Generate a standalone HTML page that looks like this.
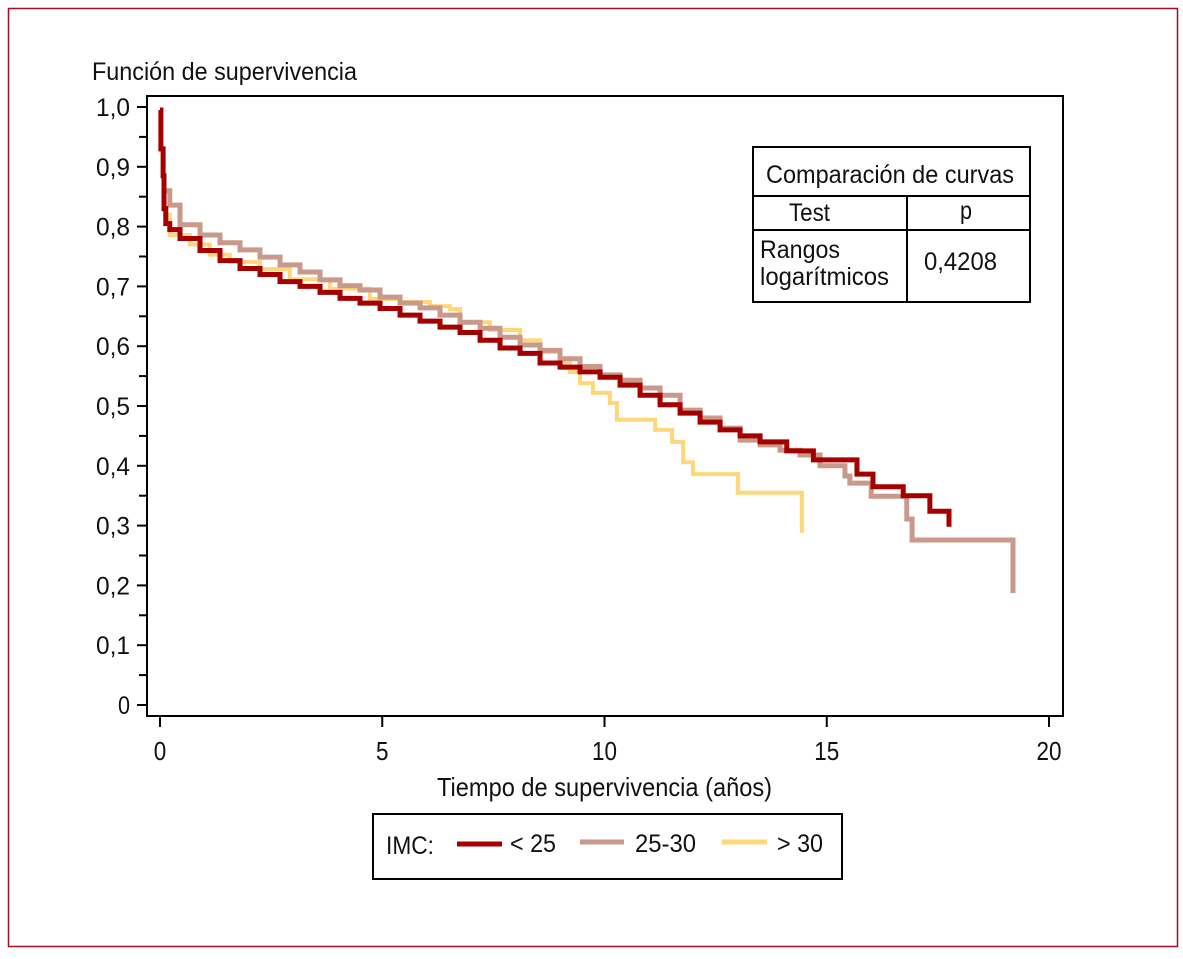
<!DOCTYPE html>
<html><head><meta charset="utf-8"><style>
body{margin:0;background:#fff}
svg text{font-family:"Liberation Sans Narrow","Liberation Sans",sans-serif;fill:#111}
</style></head><body>
<svg id="chart" width="1183" height="954" xmlns="http://www.w3.org/2000/svg">
<rect x="8.5" y="8.5" width="1169" height="938" fill="none" stroke="#a01020" stroke-width="1.5"/>
<text x="92" y="80" font-size="25" textLength="265" lengthAdjust="spacingAndGlyphs">Función de supervivencia</text>
<rect x="147" y="96" width="916" height="620" fill="none" stroke="#000" stroke-width="2"/>
<g id="axes"></g>
<g id="series"></g>
<text x="437" y="796" font-size="26" textLength="335" lengthAdjust="spacingAndGlyphs">Tiempo de supervivencia (años)</text>
<g>
<rect x="753" y="147" width="277" height="155" fill="#fff" stroke="#000" stroke-width="2"/>
<line x1="753" y1="196" x2="1030" y2="196" stroke="#000" stroke-width="2"/>
<line x1="753" y1="230" x2="1030" y2="230" stroke="#000" stroke-width="2"/>
<line x1="907" y1="196" x2="907" y2="302" stroke="#000" stroke-width="2"/>
<text x="766" y="183" font-size="25" textLength="248" lengthAdjust="spacingAndGlyphs">Comparación de curvas</text>
<text x="789" y="221" font-size="25" textLength="41" lengthAdjust="spacingAndGlyphs">Test</text>
<text x="960" y="219" font-size="25" textLength="12" lengthAdjust="spacingAndGlyphs">p</text>
<text x="760" y="258" font-size="25" textLength="80" lengthAdjust="spacingAndGlyphs">Rangos</text>
<text x="760" y="285" font-size="25" textLength="129" lengthAdjust="spacingAndGlyphs">logarítmicos</text>
<text x="924" y="270" font-size="25" textLength="73" lengthAdjust="spacingAndGlyphs">0,4208</text>
</g>
<g>
<rect x="373" y="814" width="469" height="65" fill="none" stroke="#000" stroke-width="2"/>
<text x="386" y="854" font-size="25" textLength="48" lengthAdjust="spacingAndGlyphs">IMC:</text>
<line x1="457" y1="844" x2="502" y2="844" stroke="#a50000" stroke-width="5"/>
<text x="510" y="852" font-size="25" textLength="46" lengthAdjust="spacingAndGlyphs">&lt; 25</text>
<line x1="580" y1="842" x2="624" y2="842" stroke="#c9998c" stroke-width="5"/>
<text x="635" y="852" font-size="25" textLength="61" lengthAdjust="spacingAndGlyphs">25-30</text>
<line x1="722" y1="842" x2="767" y2="842" stroke="#fdd77a" stroke-width="5"/>
<text x="777" y="852" font-size="25" textLength="46" lengthAdjust="spacingAndGlyphs">&gt; 30</text>
</g>
</svg>
<script>
const xTicks=[0,5,10,15,20];
const yTicks=[0,0.1,0.2,0.3,0.4,0.5,0.6,0.7,0.8,0.9,1.0];
const yTickLabels=["0","0,1","0,2","0,3","0,4","0,5","0,6","0,7","0,8","0,9","1,0"];
const redT=[0,0.02,0.07,0.09,0.13,0.22,0.45,0.9,1.35,1.8,2.25,2.7,3.15,3.6,4.05,4.5,4.95,5.4,5.85,6.3,6.75,7.2,7.65,8.1,8.55,9.0,9.45,9.9,10.35,10.8,11.25,11.7,12.15,12.6,13.05,13.5,14.1,14.7,15.68,16.04,16.72,17.32];
const redS=[0.995,0.93,0.885,0.83,0.805,0.795,0.78,0.76,0.743,0.73,0.72,0.708,0.70,0.69,0.68,0.672,0.663,0.652,0.642,0.632,0.623,0.61,0.597,0.588,0.572,0.565,0.557,0.548,0.535,0.518,0.502,0.488,0.473,0.46,0.45,0.44,0.425,0.41,0.386,0.365,0.35,0.324];
const redEnd=[17.75,0.298];
const roseT=[0.07,0.22,0.45,0.9,1.35,1.8,2.25,2.7,3.15,3.6,4.05,4.5,4.95,5.4,5.85,6.3,6.75,7.2,7.65,8.1,8.55,9.0,9.45,9.9,10.35,10.8,11.25,11.7,12.15,12.6,13.05,13.5,13.95,14.4,14.85,15.41,15.52,16.0,16.8,16.92];
const roseS=[0.86,0.836,0.803,0.786,0.773,0.761,0.749,0.736,0.724,0.711,0.701,0.694,0.682,0.672,0.664,0.652,0.64,0.63,0.615,0.602,0.593,0.579,0.566,0.552,0.543,0.53,0.518,0.493,0.48,0.463,0.443,0.435,0.426,0.418,0.40,0.383,0.371,0.349,0.311,0.276];
const roseEnd=[19.19,0.187];
const yelT=[0.07,0.22,0.67,1.12,1.57,2.25,2.92,3.82,4.72,5.4,6.07,6.52,6.75,7.42,8.1,8.55,9.0,9.22,9.45,9.74,10.12,10.28,11.14,11.52,11.77,11.99,13.0];
const yelS=[0.82,0.786,0.77,0.753,0.741,0.729,0.712,0.696,0.679,0.674,0.667,0.662,0.64,0.627,0.61,0.59,0.572,0.557,0.538,0.522,0.505,0.477,0.46,0.44,0.406,0.386,0.355];
const yelEnd=[14.44,0.288];

const NS="http://www.w3.org/2000/svg";
const X=t=>160+t*44.45, Y=s=>705-s*598;
const axes=document.getElementById('axes'), series=document.getElementById('series');
function mk(tag,attrs,parent){const e=document.createElementNS(NS,tag);for(const k in attrs)e.setAttribute(k,attrs[k]);parent.appendChild(e);return e;}
xTicks.forEach((t,i)=>{
  const l=mk('line',{x1:X(t),x2:X(t),y1:716,y2:727,stroke:'#000','stroke-width':2},axes);
  
  
  const lab=String(t);
  const tx=mk('text',{x:X(t),y:760,'font-size':26,'text-anchor':'middle',textLength:lab.length*12.5,lengthAdjust:'spacingAndGlyphs'},axes);
  tx.textContent=lab;
  
  
});
yTicks.forEach((v,i)=>{
  const l=mk('line',{x1:137,x2:147,y1:Y(v),y2:Y(v),stroke:'#000','stroke-width':2},axes);
  
  
  if(i<yTicks.length-1){
    const m=mk('line',{x1:139,x2:147,y1:Y(v+0.05),y2:Y(v+0.05),stroke:'#000','stroke-width':2},axes);
    
    
  }
  const lab=yTickLabels[i];
  const tx=mk('text',{x:130,y:Y(v)+9,'font-size':25,'text-anchor':'end',textLength:lab.length>1?34:12,lengthAdjust:'spacingAndGlyphs'},axes);
  tx.textContent=lab;
  
  
});
function step(T,S,end,color,w,name){
  let d='M'+X(T[0])+' '+Y(S[0]);
  for(let i=1;i<T.length;i++){d+=' H'+X(T[i])+' V'+Y(S[i]);}
  d+=' H'+X(end[0])+' V'+Y(end[1]);
  const p=mk('path',{d:d,fill:'none',stroke:color,'stroke-width':w},series);
  
  
}
step(yelT,yelS,yelEnd,'#fdd77a',4,'curve-gt30');
step(roseT,roseS,roseEnd,'#c9998c',5,'curve-25-30');
step(redT,redS,redEnd,'#a50000',5,'curve-lt25');
</script>
</body></html>
